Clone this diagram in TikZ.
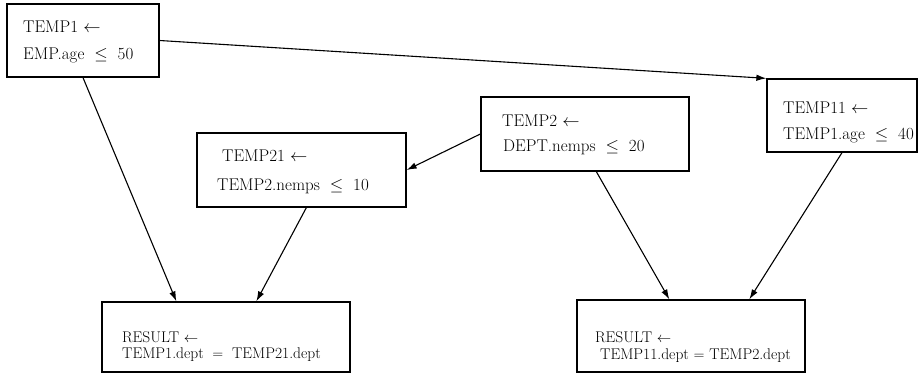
\documentclass[tikz,border=0pt]{standalone}
\usetikzlibrary{arrows.meta}
\begin{document}
\begin{tikzpicture}[x=1pt,y=-1pt,
  box/.style={draw, line width=1.3pt, rectangle, inner sep=0pt},
  lbl/.style={anchor=base west, inner sep=0pt, font=\fontsize{17}{20}\selectfont},
  lbls/.style={anchor=base west, inner sep=0pt, font=\fontsize{15.5}{18}\selectfont},
  conn/.style={line width=1.1pt, -{Latex[length=10pt,width=6.5pt]}}]
\useasboundingbox (0,0) rectangle (919,375);
% boxes
\node[box, minimum width=152pt, minimum height=73pt] (t1) at (83,40.5) {};
\node[box, minimum width=209pt, minimum height=74pt] (t21) at (301.5,170) {};
\node[box, minimum width=208pt, minimum height=74pt] (t2) at (585,134) {};
\node[box, minimum width=150pt, minimum height=73pt] (t11) at (842,115.5) {};
\node[box, minimum width=248pt, minimum height=70pt] (r1) at (226,337) {};
\node[box, minimum width=228pt, minimum height=72pt] (r2) at (691,336) {};
% texts
\node[lbl] (t1a) at (23,32) {TEMP1 $\leftarrow$};
\node[lbl] (t1b) at (23,59) {EMP.age $\;\leq\;$ 50};
\node[lbl] (t21a) at (222,161) {TEMP21 $\leftarrow$};
\node[lbl] (t21b) at (217,190) {TEMP2.nemps $\;\leq\;$ 10};
\node[lbl] (t2a) at (502,126) {TEMP2 $\leftarrow$};
\node[lbl] (t2b) at (503,151) {DEPT.nemps $\;\leq\;$ 20};
\node[lbl] (t11a) at (783,113) {TEMP11 $\leftarrow$};
\node[lbl] (t11b) at (783,139) {TEMP1.age $\;\leq\;$ 40};
\node[lbls] (r1a) at (122,342) {RESULT $\leftarrow$};
\node[lbls] (r1b) at (122,358) {TEMP1.dept $\;=\;$ TEMP21.dept};
\node[lbls] (r2a) at (595,342) {RESULT $\leftarrow$};
\node[lbls] (r2b) at (600,359) {TEMP11.dept $=$ TEMP2.dept};
% connectors
\draw[conn] (t1.east) -- (t11.north west);
\draw[conn] (t1.south) -- ([xshift=75pt]r1.north west);
\draw[conn] ([xshift=110pt]t21.south west) -- ([xshift=155pt]r1.north west);
\draw[conn] (t2.west) -- (t21.east);
\draw[conn] ([xshift=116pt]t2.south west) -- ([xshift=93pt]r2.north west);
\draw[conn] (t11.south) -- ([xshift=173pt]r2.north west);
\end{tikzpicture}
\end{document}
